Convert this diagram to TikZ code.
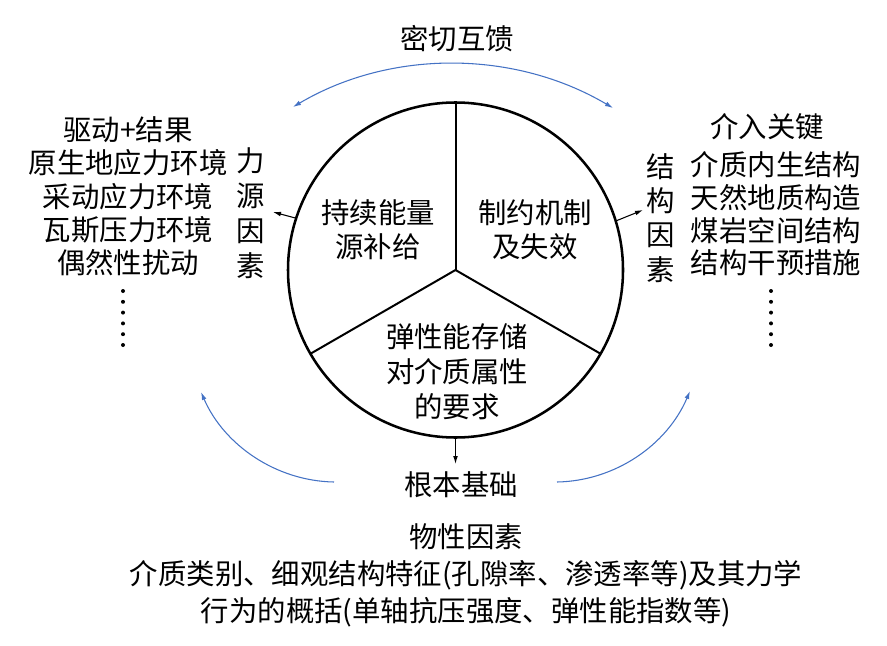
\documentclass[tikz,border=0pt]{standalone}
\usepackage{fontspec}
\setmainfont{Noto Sans CJK SC}
\usetikzlibrary{arrows.meta}
\definecolor{arcblue}{RGB}{68,114,196}
\begin{document}
\begin{tikzpicture}[x=0.75pt,y=-0.75pt,
  txt/.style={inner sep=0pt, outer sep=0pt, align=center, font=\fontsize{21.3}{25}\selectfont},
  pie/.style={draw, circle, line width=1.9pt, minimum size=251.25pt, inner sep=0pt, outer sep=0pt},
  spoke/.style={line width=1.5pt},
  arr/.style={line width=0.8pt, -{Latex[length=6pt,width=3.6pt]}},
  barr/.style={arcblue, line width=0.8pt},
  dot/.style={fill=black}]
\useasboundingbox (0,0) rectangle (887,645);

% main circle
\node[pie] (C) at (455.5,270) {};
\draw[spoke] (C.center) -- (C.90);
\draw[spoke] (C.center) -- (C.210);
\draw[spoke] (C.center) -- (C.330);

% inner texts
\node[txt, font=\fontsize{21.3}{25.5}\selectfont] (s1) at (378,230) {持续能量\\源补给};
\node[txt, font=\fontsize{21.3}{25.5}\selectfont] (s2) at (535,230) {制约机制\\及失效};
\node[txt, font=\fontsize{21.3}{26.25}\selectfont] (s3) at (457,372) {弹性能存储\\对介质属性\\的要求};

% top label
\node[txt] (mq) at (457,39) {密切互馈};

% left side
\node[txt, font=\fontsize{21.3}{25}\selectfont] (ll) at (128,196.5) {驱动+结果\\原生地应力环境\\采动应力环境\\瓦斯压力环境\\偶然性扰动};
\node[txt, font=\fontsize{21.3}{26.25}\selectfont] (lf) at (251,213) {力\\源\\因\\素};

% right side
\node[txt] (rt) at (767,127) {介入关键};
\node[txt, font=\fontsize{21.3}{24.5}\selectfont] (rl) at (776,214) {介质内生结构\\天然地质构造\\煤岩空间结构\\结构干预措施};
\node[txt, font=\fontsize{21.3}{25.7}\selectfont] (rf) at (661,218) {结\\构\\因\\素};

% bottom
\node[txt] (gb) at (461,485) {根本基础};
\node[txt, font=\fontsize{21.3}{27.75}\selectfont] (wx) at (466,575) {物性因素\\介质类别、细观结构特征(孔隙率、渗透率等)及其力学\\行为的概括(单轴抗压强度、弹性能指数等)};

% dots
\foreach \i in {0,...,5} {
  \fill[dot] (123,291+10.8*\i) circle[radius=1.5pt];
  \fill[dot] (771,291+10.8*\i) circle[radius=1.5pt];
}

% black arrows
\coordinate (la) at (273,212);
\coordinate (ra) at (643,210);
\coordinate (ba) at (455.5,464);
\draw[arr] (C.162) -- (la);
\draw[arr] (C.17) -- (ra);
\draw[arr] (C.270) -- (ba);

% blue arcs
\coordinate (tl) at (293,107);
\coordinate (tr) at (613,108);
\draw[barr, {Latex[length=6pt,width=3.6pt]}-{Latex[length=6pt,width=3.6pt]}] (tl) .. controls (391,49) and (515,50) .. (tr);
\coordinate (bl0) at (334,482);
\coordinate (bl1) at (201,392);
\draw[barr, -{Latex[length=6pt,width=3.6pt]}] (bl0) .. controls (276,481) and (224,445) .. (bl1);
\coordinate (br0) at (557,482);
\coordinate (br1) at (690,391);
\draw[barr, -{Latex[length=6pt,width=3.6pt]}] (br0) .. controls (615,481) and (667,445) .. (br1);
\end{tikzpicture}
\end{document}
